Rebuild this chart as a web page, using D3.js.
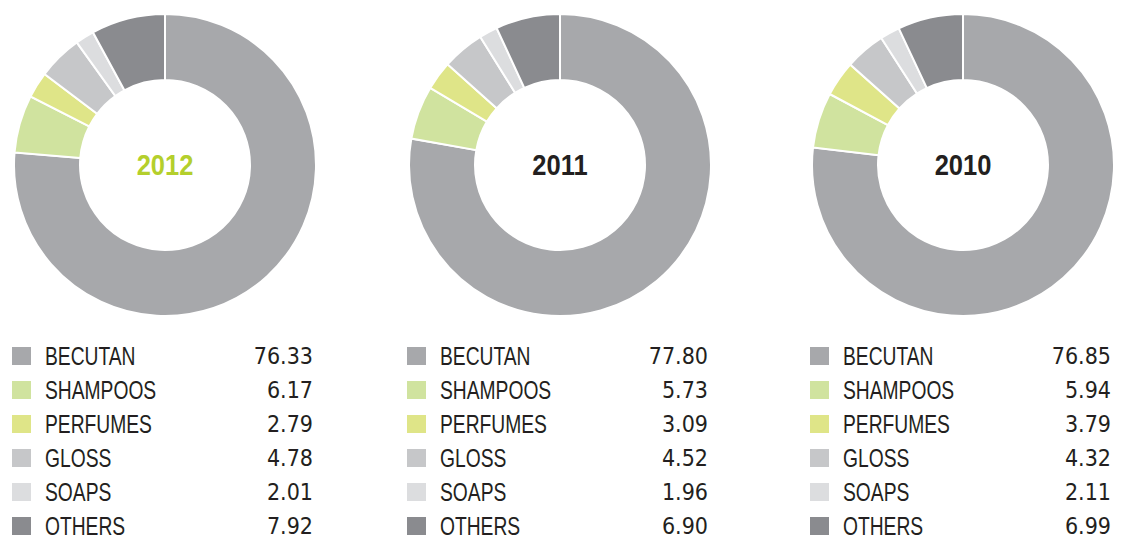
<!DOCTYPE html>
<html>
<head>
<meta charset="utf-8">
<script src="https://cdn.jsdelivr.net/npm/d3@7"></script>
<style>
  body { margin: 0; background: #fff; }
  svg { display: block; }
</style>
</head>
<body>
<div class="chart"></div>
<script>
const categories = ['BECUTAN', 'SHAMPOOS', 'PERFUMES', 'GLOSS', 'SOAPS', 'OTHERS']
const years = ['2012', '2011', '2010']
const values2012 = [76.33, 6.17, 2.79, 4.78, 2.01, 7.92]
const values2011 = [77.80, 5.73, 3.09, 4.52, 1.96, 6.90]
const values2010 = [76.85, 5.94, 3.79, 4.32, 2.11, 6.99]
const allValues = [values2012, values2011, values2010]

const colors = ['#a7a8ab', '#d0e39f', '#dfe588', '#c6c7c9', '#dcdddf', '#8a8b8f']
const yearColors = ['#b4cf2c', '#231f20', '#231f20']

const width = 1121, height = 542
const centersX = [165, 560, 963]
const cy = 165
const outerR = 151, innerR = 85

const svg = d3.select('.chart').append('svg')
  .attr('width', width)
  .attr('height', height)

const color = d3.scaleOrdinal().domain(categories).range(colors)

const pie = d3.pie().sort(null).value(d => d.value)
const arc = d3.arc().innerRadius(innerR).outerRadius(outerR)

// legend rows
const rowY = d3.scalePoint().domain(categories).range([356, 526])

years.forEach((yr, k) => {
  const cx = centersX[k]
  const rows = categories.map((c, i) => ({cat: c, value: allValues[k][i]}))

  const g = svg.append('g').attr('transform', `translate(${cx},${cy})`)
  g.selectAll('path')
    .data(pie(rows))
    .enter()
    .append('path')
    .attr('d', arc)
    .attr('fill', d => color(d.data.cat))
    .attr('stroke', '#fff')
    .attr('stroke-width', 2)

  // year in the hole, squeezed a bit to look like a condensed face
  g.append('text')
    .attr('text-anchor', 'middle')
    .attr('dy', '0.36em')
    .attr('transform', 'scale(0.88,1)')
    .attr('font-family', 'Liberation Sans, Arial, sans-serif')
    .attr('font-weight', 'bold')
    .attr('font-size', 29)
    .attr('fill', yearColors[k])
    .text(yr)

  const leg = svg.append('g')
  leg.selectAll('rect')
    .data(rows)
    .enter()
    .append('rect')
    .attr('x', cx - 153)
    .attr('y', d => rowY(d.cat) - 9)
    .attr('width', 19)
    .attr('height', 18)
    .attr('fill', d => color(d.cat))

  leg.selectAll('.lbl')
    .data(rows)
    .enter()
    .append('text')
    .attr('class', 'lbl')
    .attr('transform', d => `translate(${cx - 120},${rowY(d.cat)}) scale(0.77,1)`)
    .attr('dy', '0.36em')
    .attr('font-family', 'Liberation Sans, Arial, sans-serif')
    .attr('font-size', 25)
    .attr('fill', '#231f20')
    .text(d => d.cat)

  leg.selectAll('.val')
    .data(rows)
    .enter()
    .append('text')
    .attr('class', 'val')
    .attr('x', cx + 148)
    .attr('y', d => rowY(d.cat))
    .attr('dy', '0.36em')
    .attr('text-anchor', 'end')
    .attr('font-family', 'DejaVu Sans Condensed, sans-serif')
    .attr('font-size', 23)
    .attr('fill', '#231f20')
    .text(d => d.value.toFixed(2))
})
</script>
</body>
</html>
